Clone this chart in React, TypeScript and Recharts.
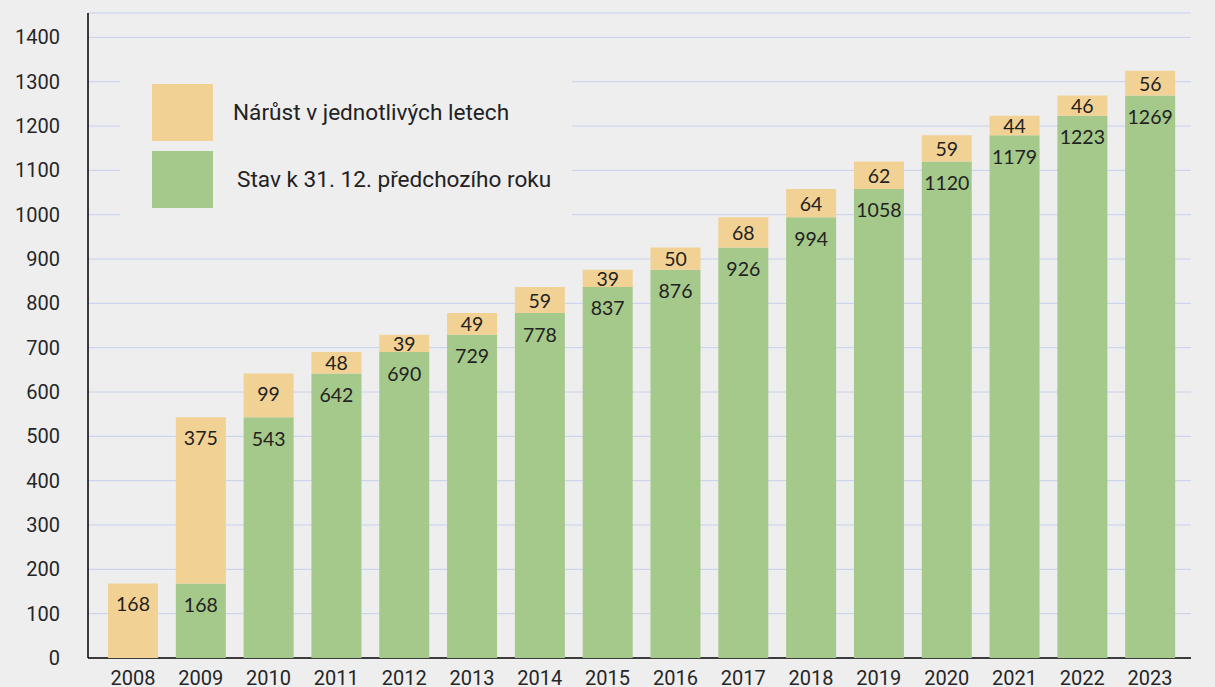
import React from 'react';
import { BarChart, Bar, XAxis, YAxis, CartesianGrid, LabelList } from 'recharts';

const years = ['2008', '2009', '2010', '2011', '2012', '2013', '2014', '2015', '2016', '2017', '2018', '2019', '2020', '2021', '2022', '2023'];
const stav = [0, 168, 543, 642, 690, 729, 778, 837, 876, 926, 994, 1058, 1120, 1179, 1223, 1269];
const narust = [168, 375, 99, 48, 39, 49, 59, 39, 50, 68, 64, 62, 59, 44, 46, 56];
const yTicks = [0, 100, 200, 300, 400, 500, 600, 700, 800, 900, 1000, 1100, 1200, 1300, 1400];

const legendItems = [
  { label: 'Nárůst v jednotlivých letech', color: '#F2D194' },
  { label: 'Stav k 31. 12. předchozího roku', color: '#A5C88B' },
];

const data = years.map((y, i) => ({ year: y, stav: stav[i], narust: narust[i] }));

const LABEL_FONT = 'Lato, "Open Sans", sans-serif';
const BASELINE_Y = 658;

const TopLabel = (props: any) => {
  const { x, y, width, height, value } = props;
  if (value === null || value === undefined || value === 0) return null;
  const cy = Math.min(y + 20, y + height / 2);
  return (
    <text x={x + width / 2} y={cy} textAnchor="middle" dominantBaseline="central" fill="#222" fontSize={19.5} fontFamily={LABEL_FONT}>
      {value}
    </text>
  );
};

const InnerLabel = (props: any) => {
  const { x, y, width, value } = props;
  if (value === null || value === undefined || value === 0) return null;
  return (
    <text x={x + width / 2} y={y + 21} textAnchor="middle" dominantBaseline="central" fill="#222" fontSize={19.5} fontFamily={LABEL_FONT}>
      {value}
    </text>
  );
};

const GridLine = (props: any) => {
  const { x1, y1, x2, y2 } = props;
  const isBase = Math.abs(y1 - BASELINE_Y) < 1.5;
  return (
    <line
      x1={x1}
      y1={y1}
      x2={x2}
      y2={y2}
      stroke={isBase ? '#000' : '#C5D1EA'}
      strokeWidth={isBase ? 1.5 : 1}
    />
  );
};

export default function App() {
  return (
    <div style={{ position: 'fixed', left: 0, top: 0, width: 1215, height: 687, background: '#eeeeee', fontFamily: 'Roboto, sans-serif' }}>
      <BarChart width={1215} height={687} data={data} margin={{ top: 13, right: 24, left: 0, bottom: 0 }}>
        <CartesianGrid horizontal={GridLine} vertical={false} />
        <XAxis
          dataKey="year"
          height={29}
          padding={{ left: 11, right: 7 }}
          axisLine={false}
          tickLine={false}
          tickSize={0}
          tickMargin={13}
          tick={{ fill: '#262626', fontSize: 20, fontFamily: 'Roboto' }}
          interval={0}
        />
        <YAxis
          width={88}
          domain={[0, 1455]}
          ticks={yTicks}
          allowDataOverflow={true}
          axisLine={{ stroke: '#000', strokeWidth: 1.5 }}
          tickLine={false}
          tickSize={0}
          tickMargin={28}
          tick={{ fill: '#262626', fontSize: 20, fontFamily: 'Roboto' }}
        />
        <Bar dataKey="stav" stackId="a" fill="#A5C88B" barSize={50} isAnimationActive={false}>
          <LabelList dataKey="stav" content={InnerLabel} />
        </Bar>
        <Bar dataKey="narust" stackId="a" fill="#F2D194" barSize={50} isAnimationActive={false}>
          <LabelList dataKey="narust" content={TopLabel} />
        </Bar>
      </BarChart>
      <div style={{ position: 'absolute', left: 120, top: 60, width: 452, height: 170, background: '#eeeeee' }}>
        {legendItems.map((it, i) => (
          <div key={it.label} style={{ position: 'absolute', left: 32, top: 24 + i * 67, height: 57, display: 'flex', alignItems: 'center' }}>
            <div style={{ width: 61, height: 57, background: it.color }} />
            <span style={{ marginLeft: i === 0 ? 20 : 24, fontSize: 22.6, color: '#222', fontFamily: 'Roboto', whiteSpace: 'nowrap' }}>{it.label}</span>
          </div>
        ))}
      </div>
    </div>
  );
}
